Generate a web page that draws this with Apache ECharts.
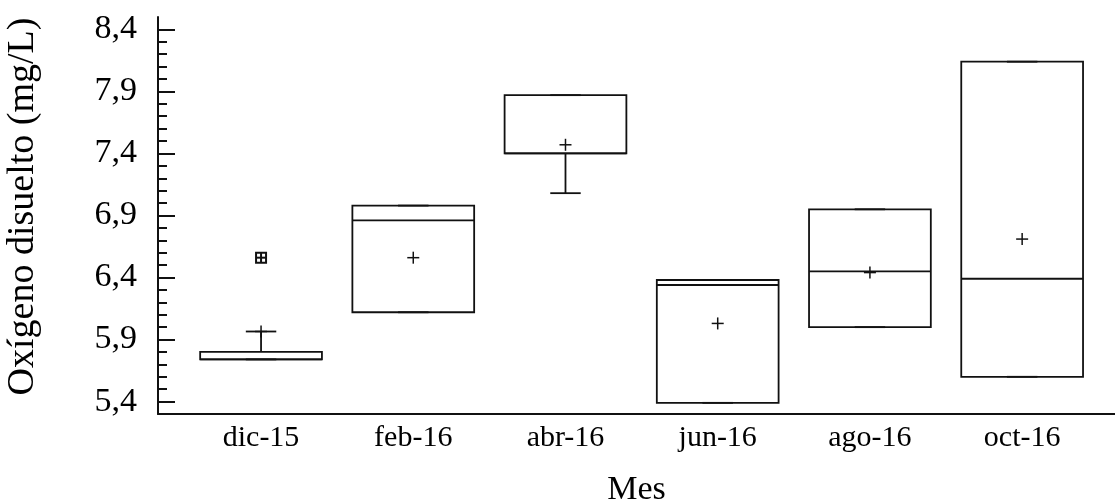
<!DOCTYPE html>
<html>
<head>
<meta charset="utf-8">
<script src="https://cdn.jsdelivr.net/npm/echarts@6/dist/echarts.min.js"></script>
<style>
  html, body { margin: 0; padding: 0; background: #fff; }
  #chart { width: 1115px; height: 502px; }
</style>
</head>
<body>
<div id="chart"></div>
<script>
// ---- data ----
const categories   = ['dic-15', 'feb-16', 'abr-16', 'jun-16', 'ago-16', 'oct-16'];
const whiskerLow   = [5.74, 6.12, 7.08, 5.39, 6.00, 5.60];
const q1           = [5.74, 6.12, 7.40, 5.39, 6.00, 5.60];
const median       = [5.74, 6.86, 7.40, 6.34, 6.45, 6.39];
const q3           = [5.80, 6.98, 7.87, 6.38, 6.95, 8.14];
const whiskerHigh  = [5.965, 6.98, 7.87, 6.38, 6.95, 8.14];
const means        = [5.965, 6.56, 7.47, 6.03, 6.44, 6.71];
const outlierCat   = [0];
const outlierValue = [6.56];
const yMajorTicks  = [5.4, 5.9, 6.4, 6.9, 7.4, 7.9, 8.4];
const yMinorTicks  = [5.5, 5.6, 5.7, 5.8, 6.0, 6.1, 6.2, 6.3, 6.5, 6.6, 6.7, 6.8,
                      7.0, 7.1, 7.2, 7.3, 7.5, 7.6, 7.7, 7.8, 8.0, 8.1, 8.2, 8.3];
const yTitle = 'Oxígeno disuelto (mg/L)';
const xTitle = 'Mes';

const FONT = "'Liberation Serif', 'Times New Roman', serif";
const INK = '#111';

const boxData = categories.map((c, i) =>
  [i + 1, whiskerLow[i], q1[i], median[i], q3[i], whiskerHigh[i], means[i]]);
const outlierData = outlierCat.map((c, i) => [c + 1, outlierValue[i]]);

function renderBox(params, api) {
  const x = api.value(0);
  const wl = api.coord([x, api.value(1)]);
  const b1 = api.coord([x, api.value(2)]);
  const md = api.coord([x, api.value(3)]);
  const b3 = api.coord([x, api.value(4)]);
  const wh = api.coord([x, api.value(5)]);
  const mn = api.coord([x, api.value(6)]);
  const bw = api.size([0.8, 0])[0];
  const cw = bw * 0.25;
  const cx = wl[0];
  const st = { stroke: INK, lineWidth: 1.8, fill: null };
  const pst = { stroke: INK, lineWidth: 1.5, fill: null };
  const line = (x1, y1, x2, y2, s) => ({ type: 'line', shape: { x1, y1, x2, y2 }, style: s || st });
  const pm = 6;
  return {
    type: 'group',
    children: [
      { type: 'rect', shape: { x: cx - bw / 2, y: b3[1], width: bw, height: b1[1] - b3[1] },
        style: { stroke: INK, lineWidth: 1.8, fill: '#fff' } },
      line(cx - bw / 2, md[1], cx + bw / 2, md[1]),
      line(cx, b3[1], cx, wh[1]),
      line(cx - cw / 2, wh[1], cx + cw / 2, wh[1]),
      line(cx, b1[1], cx, wl[1]),
      line(cx - cw / 2, wl[1], cx + cw / 2, wl[1]),
      line(mn[0] - pm, mn[1], mn[0] + pm, mn[1], pst),
      line(mn[0], mn[1] - pm, mn[0], mn[1] + pm, pst)
    ]
  };
}

function renderOutlier(params, api) {
  const p = api.coord([api.value(0), api.value(1)]);
  const s = 5;
  const st = { stroke: INK, lineWidth: 2, fill: null };
  return {
    type: 'group',
    children: [
      { type: 'rect', shape: { x: p[0] - s, y: p[1] - s, width: 2 * s, height: 2 * s }, style: st },
      { type: 'line', shape: { x1: p[0] - s, y1: p[1], x2: p[0] + s, y2: p[1] }, style: st },
      { type: 'line', shape: { x1: p[0], y1: p[1] - s, x2: p[0], y2: p[1] + s }, style: st }
    ]
  };
}

const chart = echarts.init(document.getElementById('chart'), null, { renderer: 'canvas' });
chart.setOption({
  backgroundColor: '#fff',
  animation: false,
  grid: { left: 158, right: 0, top: 17, bottom: 88, containLabel: false, outerBoundsMode: 'none' },
  xAxis: {
    type: 'value', min: 0.323, max: 6.61,
    name: xTitle, nameLocation: 'middle', nameGap: 59,
    nameTextStyle: { fontFamily: FONT, fontSize: 34, color: '#000' },
    axisLine: { show: true, lineStyle: { color: INK, width: 2 } },
    axisTick: { show: false },
    splitLine: { show: false },
    axisLabel: {
      customValues: [1, 2, 3, 4, 5, 6],
      formatter: v => categories[Math.round(v) - 1],
      fontFamily: FONT, fontSize: 30, color: '#000', margin: 9
    }
  },
  yAxis: [
    {
      type: 'value', min: 5.3, max: 8.5, position: 'left',
      name: yTitle, nameLocation: 'middle', nameGap: 116, nameRotate: 90,
      nameTextStyle: { fontFamily: FONT, fontSize: 38, color: '#000', padding: [0, 0, 0, 18] },
      axisLine: { show: true, lineStyle: { color: INK, width: 2 } },
      axisTick: { show: true, inside: true, length: 17, customValues: yMajorTicks, lineStyle: { color: INK, width: 2 } },
      axisLabel: {
        customValues: yMajorTicks,
        formatter: v => v.toFixed(1).replace('.', ','),
        fontFamily: FONT, fontSize: 34, color: '#000', margin: 21
      },
      splitLine: { show: false }
    },
    {
      type: 'value', min: 5.3, max: 8.5, position: 'left', offset: 0,
      axisLine: { show: false },
      axisTick: { show: true, inside: true, length: 9, customValues: yMinorTicks, lineStyle: { color: INK, width: 2 } },
      axisLabel: { show: false },
      splitLine: { show: false }
    }
  ],
  series: [
    { type: 'custom', renderItem: renderBox, data: boxData, encode: { x: 0, y: [1, 2, 3, 4, 5, 6] }, yAxisIndex: 0, clip: false },
    { type: 'custom', renderItem: renderOutlier, data: outlierData, encode: { x: 0, y: 1 }, yAxisIndex: 0, clip: false }
  ]
});
</script>
</body>
</html>
